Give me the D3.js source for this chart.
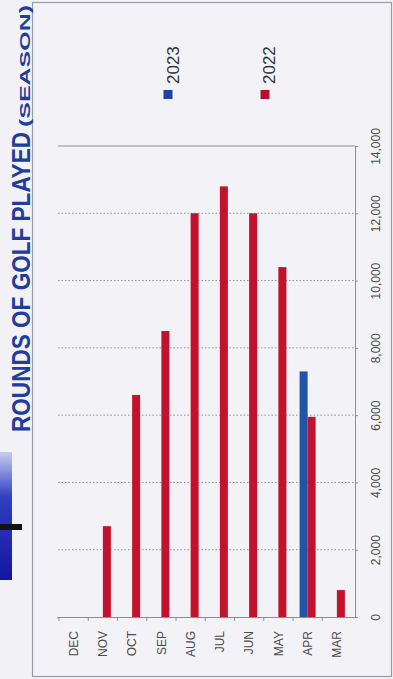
<!DOCTYPE html>
<html>
<head>
<meta charset="utf-8">
<script src="https://cdn.jsdelivr.net/npm/d3@7/dist/d3.min.js"></script>
<style>
  html, body { margin: 0; padding: 0; background: #f2f2f6; }
  svg { display: block; }
</style>
</head>
<body>
<svg id="chart" width="393" height="679"></svg>
<script>
// Monthly rounds of golf, season order (Dec back to Mar)
const months = ["DEC", "NOV", "OCT", "SEP", "AUG", "JUL", "JUN", "MAY", "APR", "MAR"];
const rounds2022 = [0, 2700, 6600, 8500, 12000, 12800, 12000, 10400, 5950, 800];
const rounds2023 = [null, null, null, null, null, null, null, null, 7300, null];
const valueTicks = [0, 2000, 4000, 6000, 8000, 10000, 12000, 14000];
const seriesNames = ["2023", "2022"];
const seriesColors = ["#2353a6", "#c3122e"];

const svg = d3.select("#chart");
const font = "'Liberation Sans', Arial, sans-serif";

// Plot frame
const plot = { left: 57, right: 355, top: 146, bottom: 617 };

const x = d3.scaleBand().domain(months).range([59, 351.5]).paddingInner(0).paddingOuter(0);
const y = d3.scaleLinear().domain([0, 14000]).range([plot.bottom, plot.top]);
const barW = 8;

// Outer border of the chart panel
svg.append("rect")
  .attr("x", 32.5).attr("y", 2.5).attr("width", 359).attr("height", 674)
  .attr("fill", "#f3f3f7").attr("stroke", "#9a9aa2").attr("stroke-width", 1.2);

// Blue badge on the left edge
const defs = svg.append("defs");
const grad = defs.append("linearGradient").attr("id", "badge").attr("x1", 0).attr("y1", 0).attr("x2", 0).attr("y2", 1);
grad.append("stop").attr("offset", "0%").attr("stop-color", "#c9cdf2");
grad.append("stop").attr("offset", "35%").attr("stop-color", "#3040c0");
grad.append("stop").attr("offset", "100%").attr("stop-color", "#1414a0");
svg.append("rect").attr("x", 0).attr("y", 452).attr("width", 12).attr("height", 128).attr("fill", "url(#badge)");
svg.append("rect").attr("x", 0).attr("y", 524).attr("width", 22).attr("height", 6).attr("fill", "#111");

// Title, rotated to read bottom-to-top
svg.append("text")
  .attr("transform", "translate(30,432) rotate(-90)")
  .attr("font-family", font).attr("font-weight", "bold").attr("font-size", 25)
  .attr("fill", "#1f3d9b")
  .attr("textLength", 300).attr("lengthAdjust", "spacingAndGlyphs")
  .text("ROUNDS OF GOLF PLAYED");
svg.append("text")
  .attr("transform", "translate(30,127) rotate(-90)")
  .attr("font-family", font).attr("font-weight", "bold").attr("font-size", 15)
  .attr("fill", "#1f3d9b")
  .attr("textLength", 122).attr("lengthAdjust", "spacingAndGlyphs")
  .text("(SEASON)");

// Gridlines
svg.append("g").selectAll("line")
  .data(valueTicks.filter(d => d > 0))
  .join("line")
  .attr("x1", plot.left + 1).attr("x2", plot.right)
  .attr("y1", d => y(d)).attr("y2", d => y(d))
  .attr("stroke", d => d === 14000 ? "#8c8c94" : "#8e8e96")
  .attr("stroke-width", 1)
  .attr("stroke-dasharray", d => d === 14000 ? null : "1.5,2");

// Bars: 2022 to the right of each category centre, 2023 to the left
const barData = [];
months.forEach((m, i) => {
  if (rounds2023[i] != null) barData.push({ m, v: rounds2023[i], s: 0 });
  if (rounds2022[i] != null && rounds2022[i] > 0) barData.push({ m, v: rounds2022[i], s: 1 });
});
svg.append("g").selectAll("rect")
  .data(barData)
  .join("rect")
  .attr("x", d => x(d.m) + x.bandwidth() / 2 + (d.s === 1 ? 0 : -barW))
  .attr("width", barW)
  .attr("y", d => y(d.v))
  .attr("height", d => y(0) - y(d.v))
  .attr("fill", d => seriesColors[d.s]);

// Value axis on the right
const yAxis = svg.append("g")
  .attr("transform", `translate(${plot.right},0)`)
  .call(d3.axisRight(y).tickValues(valueTicks).tickFormat(d3.format(",")).tickSizeInner(3).tickSizeOuter(0));
yAxis.select(".domain").attr("stroke", "#8c8c94");
yAxis.selectAll(".tick line").attr("stroke", "#8c8c94");
yAxis.selectAll(".tick text")
  .attr("x", 0).attr("y", 0).attr("dy", "0.35em")
  .attr("transform", "translate(21,0) rotate(-90)")
  .attr("text-anchor", "middle")
  .attr("font-family", font).attr("font-size", 12).attr("fill", "#4a4a4a");

// Category axis along the bottom
const xAxis = svg.append("g")
  .attr("transform", `translate(0,${plot.bottom})`)
  .call(d3.axisBottom(x).tickSize(0));
xAxis.select(".domain").remove();
xAxis.selectAll(".tick text")
  .attr("x", 0).attr("y", 0).attr("dy", "0.35em")
  .attr("transform", "translate(0,14) rotate(-90)")
  .attr("text-anchor", "end")
  .attr("font-family", font).attr("font-size", 12).attr("fill", "#4a4a4a");
svg.append("line")
  .attr("x1", plot.left).attr("x2", plot.right)
  .attr("y1", plot.bottom + 0.5).attr("y2", plot.bottom + 0.5)
  .attr("stroke", "#8c8c94");
// Boundary tick marks between categories
svg.append("g").selectAll("line")
  .data(months)
  .join("line")
  .attr("x1", d => x(d)).attr("x2", d => x(d))
  .attr("y1", plot.bottom).attr("y2", plot.bottom + 4)
  .attr("stroke", "#8c8c94");

// Legend
const legendPos = [{ x: 168, tx: 179 }, { x: 265, tx: 275 }];
seriesNames.forEach((name, i) => {
  svg.append("rect")
    .attr("x", legendPos[i].x - 4.5).attr("y", 90).attr("width", 9).attr("height", 9)
    .attr("fill", i === 0 ? "#2142a3" : "#b8102c");
  svg.append("text")
    .attr("transform", `translate(${legendPos[i].tx},84) rotate(-90)`)
    .attr("font-family", font).attr("font-size", 17).attr("fill", "#333")
    .text(name);
});
</script>
</body>
</html>
